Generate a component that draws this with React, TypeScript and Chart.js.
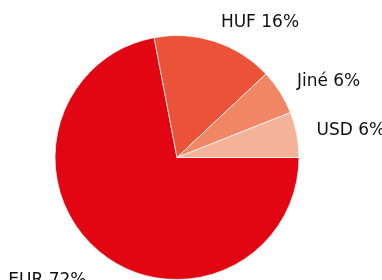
import React, { useEffect, useRef } from "react";
import { Chart, registerables } from "chart.js";

Chart.register(...registerables);

const categories = ["EUR", "HUF", "Jiné", "USD"];
const values = [72, 16, 6, 6];
const colors = ["#e20613", "#ea5338", "#f08664", "#f5b29b"];

const labelPlugin = {
  id: "outLabels",
  afterDraw(chart: any) {
    const ctx = chart.ctx;
    const meta = chart.getDatasetMeta(0);
    ctx.save();
    ctx.font = '17px "DejaVu Sans"';
    ctx.fillStyle = "#111111";
    ctx.textBaseline = "middle";
    meta.data.forEach((arc: any, i: number) => {
      const mid = (arc.startAngle + arc.endAngle) / 2;
      const c = Math.cos(mid);
      const s = Math.sin(mid);
      const R = arc.outerRadius + 20;
      const x = arc.x + c * R;
      const y = arc.y + s * R + 18 * Math.max(0, s);
      ctx.textAlign = c >= 0 ? "left" : "right";
      ctx.fillText(`${categories[i]} ${values[i]}%`, x, y);
    });
    ctx.restore();
  },
};

export default function App() {
  const ref = useRef<HTMLCanvasElement>(null);
  useEffect(() => {
    if (!ref.current) return;
    const chart = new Chart(ref.current, {
      type: "pie",
      data: {
        labels: categories,
        datasets: [
          {
            data: values,
            backgroundColor: colors,
            borderColor: "rgba(255,255,255,0.7)",
            borderWidth: 1,
          },
        ],
      },
      options: {
        animation: false,
        responsive: true,
        maintainAspectRatio: false,
        rotation: 90,
        layout: { padding: { left: 54, right: 82, top: 35, bottom: 0 } },
        plugins: {
          legend: { display: false },
          tooltip: { enabled: false },
        },
      },
      plugins: [labelPlugin],
    });
    return () => chart.destroy();
  }, []);
  return (
    <div style={{ position: "fixed", left: 0, top: 0, width: 382, height: 280, background: "#fff" }}>
      <canvas ref={ref} />
    </div>
  );
}
